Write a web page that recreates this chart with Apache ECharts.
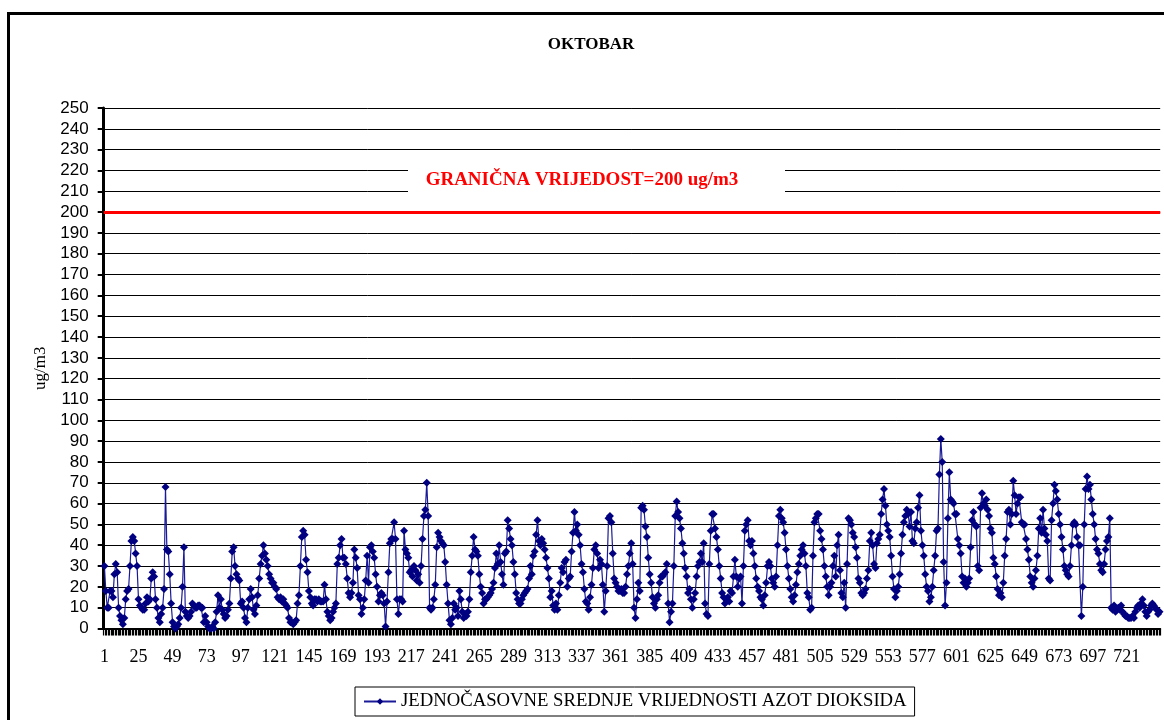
<!DOCTYPE html>
<html>
<head>
<meta charset="utf-8">
<title>OKTOBAR</title>
<script src="https://cdn.jsdelivr.net/npm/echarts@6/dist/echarts.min.js"></script>
<style>
  html, body { margin: 0; padding: 0; background: #fff; }
  #chart { width: 1164px; height: 720px; }
</style>
</head>
<body>
<div id="chart"></div>
<script>
// satne vrijednosti NO2 (ug/m3), po danima (24 sata)
const d01 = [30,18,10,10,18,18,15,26,31,27,10,6,4,2,5,14,18,19,30,42,44,42,36,30]
const d02 = [14,11,10,9,9,12,15,13,14,24,27,25,14,10,5,3,7,10,19,68,38,37,26,12]
const d03 = [3,1,0,1,2,5,10,20,39,8,6,5,6,8,12,11,10,10,11,11,10,10,3,6]
const d04 = [3,1,0,0,1,0,3,8,16,10,14,9,7,5,6,9,12,24,37,39,30,26,24,23]
const d05 = [12,13,10,5,3,10,14,19,15,9,7,11,16,24,31,35,40,36,33,30,26,24,22,22]
const d06 = [20,19,15,14,15,13,14,12,11,10,5,3,3,2,3,4,12,16,30,44,47,45,33,27]
const d07 = [18,15,12,11,14,14,13,14,13,13,13,21,14,8,6,4,5,8,10,12,31,34,40,43]
const d08 = [34,34,31,24,17,15,17,22,38,34,29,16,14,7,10,14,23,35,22,39,40,37,34,26]
const d09 = [20,13,16,17,16,12,1,13,27,41,43,43,51,43,14,7,14,14,13,47,38,36,34,27]
const d10 = [28,25,30,28,23,26,22,30,43,54,57,70,54,10,9,10,14,21,39,46,44,42,41,40]
const d11 = [32,21,12,4,2,5,12,9,10,6,18,14,8,5,7,6,8,14,27,35,44,38,37,35]
const d12 = [26,20,17,12,14,14,15,16,17,19,22,29,36,31,40,32,26,21,36,37,52,48,43,40]
const d13 = [32,26,17,14,12,12,14,16,17,18,19,24,30,26,35,37,45,52,42,40,43,41,38,34]
const d14 = [29,24,15,18,11,9,12,9,16,22,29,27,32,33,20,24,25,37,46,56,47,50,45,40]
const d15 = [31,27,19,13,12,9,15,21,29,38,40,36,29,33,31,21,8,18,30,53,54,51,36,24]
const d16 = [22,20,18,18,19,17,17,20,26,30,36,41,31,10,5,14,22,18,58,59,57,49,44,34]
const d17 = [26,22,15,12,10,14,16,22,25,25,26,27,31,12,3,8,12,30,54,61,56,53,48,41]
const d18 = [36,29,25,17,19,14,10,14,17,25,30,32,36,32,41,12,7,6,31,47,55,55,48,44]
const d19 = [38,30,24,17,15,12,14,15,13,18,17,25,33,25,20,24,25,12,30,47,50,52,42,40]
const d20 = [42,36,30,24,20,18,15,14,11,16,22,30,32,30,24,22,20,25,40,54,57,53,51,46]
const d21 = [38,30,24,19,15,13,16,21,27,31,35,38,40,36,30,17,15,9,10,35,51,53,55,55]
const d22 = [47,43,38,30,25,20,16,20,22,30,35,25,40,45,28,17,15,22,10,31,53,52,50,46]
const d23 = [44,39,34,24,22,17,16,17,19,24,28,42,46,40,31,29,41,43,45,55,62,67,59,50]
const d24 = [47,44,35,25,19,15,18,20,26,36,45,51,54,57,55,49,56,42,41,48,51,58,64,47]
const d25 = [40,35,26,20,18,13,15,20,28,35,47,48,74,91,80,32,11,22,53,75,62,61,60,55]
const d26 = [55,43,40,36,25,22,24,20,22,24,39,52,56,50,49,30,28,58,65,60,59,62,57,54]
const d27 = [48,46,34,31,25,19,16,17,15,22,35,43,56,57,50,55,71,64,55,60,63,63,51,50]
const d28 = [50,43,38,33,25,22,20,24,28,35,48,53,46,57,48,45,42,24,23,52,60,69,66,62]
const d29 = [55,50,44,38,30,28,26,25,30,40,50,51,50,44,40,40,6,20,50,67,73,67,69,62]
const d30 = [55,50,43,38,36,31,28,27,31,38,42,44,53,10,9,11,8,9,10,9,11,8,7,6]
const d31 = [6,5,5,5,6,5,8,10,11,10,12,14,11,8,6,8,9,11,12,11,10,9,7,8]

const no2 = [].concat(d01, d02, d03, d04, d05, d06, d07, d08, d09, d10, d11, d12, d13, d14, d15, d16,
  d17, d18, d19, d20, d21, d22, d23, d24, d25, d26, d27, d28, d29, d30, d31)

// redni broj sata u mjesecu
const hours = no2.map((v, i) => String(i + 1))

const limitValue = 200
const seriesName = 'JEDNOČASOVNE SREDNJE VRIJEDNOSTI AZOT DIOKSIDA'
const limitLabel = 'GRANIČNA VRIJEDOST=200 ug/m3'

const chart = echarts.init(document.getElementById('chart'))

chart.setOption({
  animation: false,
  backgroundColor: '#fff',
  grid: { left: 103.7, top: 108, width: 1056.5, height: 520.5 },
  graphic: [
    {
      type: 'rect',
      shape: { x: 8.5, y: 13.5, width: 1300, height: 900 },
      style: { fill: 'none', stroke: '#000', lineWidth: 3 },
      silent: true
    },
    {
      type: 'text',
      x: 591, y: 45,
      style: {
        text: 'OKTOBAR', fill: '#000', align: 'center', verticalAlign: 'middle',
        font: 'bold 17px "Liberation Serif"'
      }
    },
    {
      type: 'rect',
      shape: { x: 408, y: 166, width: 377, height: 28 },
      style: { fill: '#fff' },
      z: 50
    },
    {
      type: 'text',
      x: 582, y: 180, z: 51,
      style: {
        text: limitLabel, fill: '#ff0000', align: 'center', verticalAlign: 'middle',
        font: 'bold 19px "Liberation Serif"'
      }
    }
  ],
  legend: {
    left: 355, top: 687,
    padding: [5, 8],
    borderColor: '#000', borderWidth: 1, borderRadius: 0,
    itemWidth: 32, itemHeight: 8,
    textStyle: { fontFamily: 'Liberation Serif', fontSize: 18.7, color: '#000' },
    data: [seriesName]
  },
  xAxis: {
    type: 'category',
    data: hours,
    boundaryGap: true,
    axisLine: { lineStyle: { color: '#000', width: 2 } },
    axisTick: { show: true, interval: 0, length: 7, lineStyle: { color: '#000', width: 1.2 } },
    axisLabel: { interval: 23, color: '#000', fontFamily: 'Liberation Serif', fontSize: 18, margin: 20 },
    splitLine: { show: false }
  },
  yAxis: {
    type: 'value',
    min: 0, max: 250, interval: 10,
    name: 'ug/m3',
    nameLocation: 'middle',
    nameRotate: 90,
    nameGap: 55,
    nameTextStyle: { fontFamily: 'Liberation Serif', fontSize: 17, color: '#000' },
    axisLine: { show: true, lineStyle: { color: '#000', width: 3 } },
    axisTick: { show: true, length: 6, lineStyle: { color: '#000', width: 2 } },
    axisLabel: { color: '#000', fontFamily: 'Liberation Sans', fontSize: 17, margin: 15 },
    splitLine: { lineStyle: { color: '#000', width: 1 } }
  },
  series: [
    {
      name: seriesName,
      type: 'line',
      data: no2,
      symbol: 'diamond',
      symbolSize: 8,
      showAllSymbol: true,
      itemStyle: { color: '#000080' },
      lineStyle: { color: '#1a1a99', width: 1.2 },
      emphasis: { disabled: true },
      markLine: {
        silent: true,
        symbol: 'none',
        label: { show: false },
        lineStyle: { color: '#ff0000', width: 3, type: 'solid' },
        data: [{ yAxis: limitValue }]
      }
    }
  ]
})
</script>
</body>
</html>
